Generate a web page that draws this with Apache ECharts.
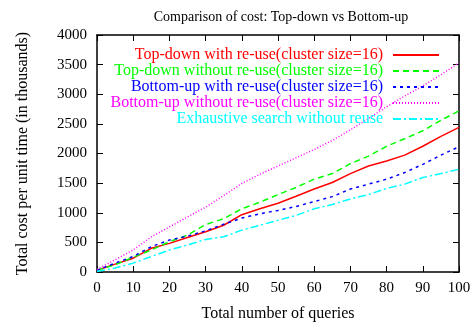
<!DOCTYPE html>
<html>
<head>
<meta charset="utf-8">
<script src="https://cdn.jsdelivr.net/npm/echarts@6/dist/echarts.min.js"></script>
<style>html,body{margin:0;padding:0;background:#fff}#c{width:474px;height:327px}</style>
</head>
<body>
<div id="c"></div>
<script>
const queries = [0,5,10,15,20,25,30,35,40,45,50,55,60,65,70,75,80,85,90,95,100];
const topDownReuse = [30,133,233,400,483,583,678,789,967,1067,1161,1278,1400,1511,1661,1789,1872,1972,2122,2289,2440];
const topDownNoReuse = [30,122,250,372,511,622,800,900,1067,1178,1306,1428,1567,1661,1828,1956,2122,2250,2383,2560,2720];
const bottomUpReuse = [30,150,261,428,539,606,694,806,911,983,1039,1106,1189,1272,1400,1483,1567,1678,1817,1972,2115];
const bottomUpNoReuse = [45,206,372,594,761,928,1094,1289,1494,1650,1789,1928,2067,2220,2400,2590,2790,2970,3140,3330,3530];
const exhaustive = [10,67,150,261,372,456,550,594,706,789,872,956,1067,1139,1233,1306,1411,1483,1594,1661,1735];
const seriesNames = [
  'Top-down with re-use(cluster size=16)',
  'Top-down without re-use(cluster size=16)',
  'Bottom-up with re-use(cluster size=16)',
  'Bottom-up without re-use(cluster size=16)',
  'Exhaustive search without reuse'
];
const colors = ['#ff0000','#00ff00','#0000ff','#ff00ff','#00ffff'];
const dashes = ['solid',[6,4],[3,4],[1,2],[8,3,2,3]];
const allData = [topDownReuse, topDownNoReuse, bottomUpReuse, bottomUpNoReuse, exhaustive];

const font = 'Liberation Serif';
const chart = echarts.init(document.getElementById('c'));
const axisBase = {
  axisLine:{show:true,onZero:false,lineStyle:{color:'#000',width:1.5}},
  axisTick:{show:true,inside:true,length:6,lineStyle:{color:'#000',width:1}},
  splitLine:{show:false}
};
chart.setOption({
  animation:false,
  title:{text:'Comparison of cost: Top-down vs Bottom-up',left:276,top:5,textAlign:'center',
    textStyle:{fontFamily:font,fontSize:14,fontWeight:'normal',color:'#000'}},
  grid:{left:97,right:15,top:35,bottom:51},
  legend:{
    orient:'vertical',right:34,top:47,padding:0,align:'right',itemWidth:46,itemHeight:10,itemGap:0,
    itemStyle:{opacity:0},
    textStyle:{fontFamily:font,fontSize:16,lineHeight:16,padding:[0,5,0,0]},
    data:seriesNames.map((n,i)=>({name:n,textStyle:{color:colors[i]}}))
  },
  xAxis:[
    Object.assign({type:'value',min:0,max:100,interval:10,position:'bottom',
      name:'Total number of queries',nameLocation:'middle',nameGap:34,
      nameTextStyle:{fontFamily:font,fontSize:16,color:'#000'},
      axisLabel:{fontFamily:font,fontSize:15,color:'#000',margin:9}},axisBase),
    Object.assign({type:'value',min:0,max:100,interval:10,position:'top',axisLabel:{show:false}},axisBase)
  ],
  yAxis:[
    Object.assign({type:'value',min:0,max:4000,interval:500,position:'left',
      name:'Total cost per unit time (in thousands)',nameLocation:'middle',nameGap:66,
      nameTextStyle:{fontFamily:font,fontSize:16,color:'#000'},
      axisLabel:{fontFamily:font,fontSize:15,color:'#000',margin:10,formatter:v=>String(v)}},axisBase),
    Object.assign({type:'value',min:0,max:4000,interval:500,position:'right',axisLabel:{show:false}},axisBase)
  ],
  series:allData.map((d,i)=>({
    name:seriesNames[i],type:'line',symbol:'none',
    data:queries.map((q,j)=>[q,d[j]]),
    lineStyle:{color:colors[i],width:1.5,type:dashes[i]},
    itemStyle:{color:colors[i]}
  }))
});
</script>
</body>
</html>
